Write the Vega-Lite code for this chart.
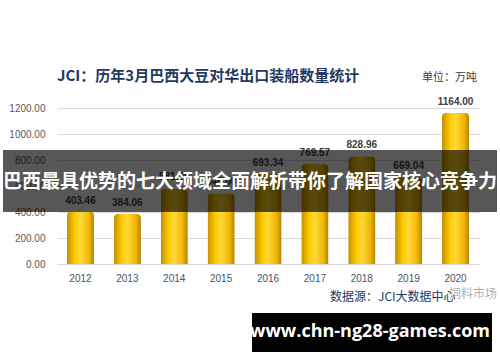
{
  "$schema": "https://vega.github.io/schema/vega-lite/v6.json",
  "width": 422,
  "height": 156,
  "autosize": {"type": "none"},
  "padding": {"left": 57, "top": 108, "right": 21, "bottom": 98},
  "background": "#ffffff",
  "config": {"font": "Noto Sans CJK SC", "view": {"stroke": null}},
  "data": {
    "values": [
      {"year": "2012", "value": 403.46},
      {"year": "2013", "value": 384.06},
      {"year": "2014", "value": 581.00},
      {"year": "2015", "value": 545.00},
      {"year": "2016", "value": 693.34},
      {"year": "2017", "value": 769.57},
      {"year": "2018", "value": 828.96},
      {"year": "2019", "value": 669.04},
      {"year": "2020", "value": 1164.00}
    ]
  },
  "encoding": {
    "x": {
      "field": "year",
      "type": "ordinal",
      "scale": {"paddingInner": 0.42, "paddingOuter": 0.21},
      "axis": {
        "title": null,
        "labelAngle": 0,
        "ticks": false,
        "domainColor": "#d9d9d9",
        "labelColor": "#44546a",
        "labelFontSize": 10,
        "labelPadding": 9,
        "labelFont": "Liberation Sans"
      }
    },
    "y": {
      "field": "value",
      "type": "quantitative",
      "scale": {"domain": [0, 1200], "nice": false},
      "axis": {
        "title": null,
        "values": [0, 200, 400, 600, 800, 1000, 1200],
        "format": ".2f",
        "ticks": false,
        "domain": false,
        "gridColor": "#d9d9d9",
        "labelColor": "#595959",
        "labelFontSize": 10,
        "labelPadding": 12,
        "labelFont": "Liberation Sans"
      }
    }
  },
  "layer": [
    {
      "mark": {
        "type": "bar",
        "color": {
          "gradient": "linear",
          "x1": 0, "x2": 1, "y1": 0, "y2": 0,
          "stops": [
            {"offset": 0, "color": "#c48f00"},
            {"offset": 0.3, "color": "#ffcc00"},
            {"offset": 0.5, "color": "#ffd83a"},
            {"offset": 0.8, "color": "#f2b900"},
            {"offset": 1, "color": "#b58300"}
          ]
        },
        "cornerRadiusTopLeft": 4,
        "cornerRadiusTopRight": 4
      }
    },
    {
      "mark": {"type": "text", "dy": -11, "fontSize": 10, "fontWeight": "bold", "color": "#404040", "font": "Liberation Sans"},
      "encoding": {"text": {"field": "value", "type": "quantitative", "format": ".2f"}}
    },
    {
      "data": {"values": [{"t": "JCI：历年3月巴西大豆对华出口装船数量统计"}]},
      "mark": {"type": "text", "align": "left", "baseline": "middle", "fontSize": 15, "fontWeight": "bold", "color": "#1f3864"},
      "encoding": {
        "x": {"value": 0},
        "y": {"value": -32},
        "text": {"field": "t"}
      }
    },
    {
      "data": {"values": [{"t": "单位：万吨"}]},
      "mark": {"type": "text", "align": "right", "fontSize": 11, "color": "#404040"},
      "encoding": {
        "x": {"value": 420},
        "y": {"value": -30},
        "text": {"field": "t"}
      }
    },
    {
      "data": {"values": [{"t": "数据源：JCI大数据中心"}]},
      "mark": {"type": "text", "align": "left", "fontSize": 12, "color": "#1f3864"},
      "encoding": {
        "x": {"value": 273},
        "y": {"value": 189},
        "text": {"field": "t"}
      }
    },
    {
      "data": {"values": [{"t": "饲料市场"}]},
      "mark": {"type": "text", "align": "left", "fontSize": 12, "color": "#b0b0b0"},
      "encoding": {
        "x": {"value": 392},
        "y": {"value": 186},
        "text": {"field": "t"}
      }
    },
    {
      "data": {"values": [{"k": "banner"}]},
      "mark": {"type": "rect", "color": "#000000", "opacity": 0.66},
      "encoding": {
        "x": {"value": -54},
        "x2": {"value": 440},
        "y": {"value": 42},
        "y2": {"value": 104}
      }
    },
    {
      "data": {"values": [{"t": "巴西最具优势的七大领域全面解析带你了解国家核心竞争力"}]},
      "mark": {"type": "text", "align": "center", "baseline": "middle", "fontSize": 19, "fontWeight": "bold", "color": "#ffffff"},
      "encoding": {
        "x": {"value": 193},
        "y": {"value": 74},
        "text": {"field": "t"}
      }
    },
    {
      "data": {"values": [{"k": "footer"}]},
      "mark": {"type": "rect", "color": "#000000"},
      "encoding": {
        "x": {"value": 195},
        "x2": {"value": 435},
        "y": {"value": 205},
        "y2": {"value": 244}
      }
    },
    {
      "data": {"values": [{"t": "www.chn-ng28-games.com"}]},
      "mark": {"type": "text", "align": "center", "baseline": "middle", "fontSize": 18, "fontWeight": "bold", "color": "#ffffff", "font": "Open Sans"},
      "encoding": {
        "x": {"value": 313},
        "y": {"value": 224},
        "text": {"field": "t"}
      }
    }
  ]
}
